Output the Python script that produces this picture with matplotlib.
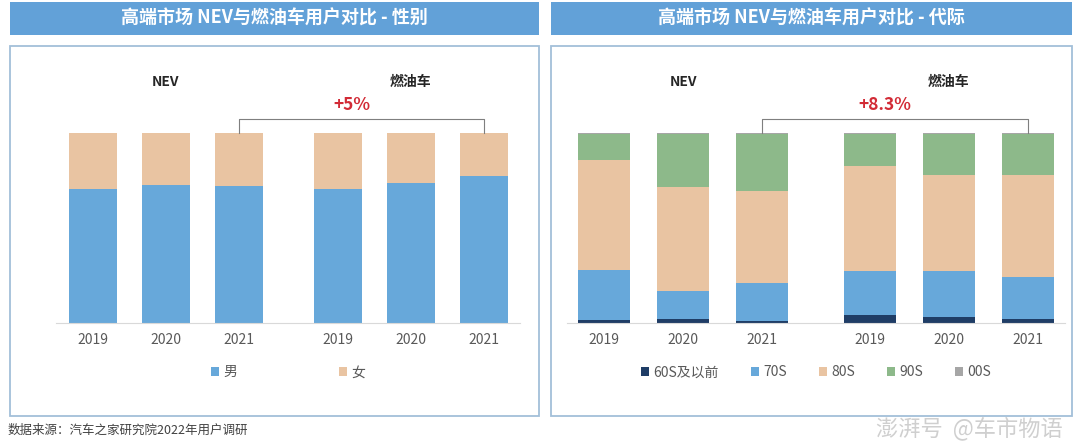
import numpy as np
import matplotlib
matplotlib.use("Agg")
import matplotlib.pyplot as plt
from matplotlib.patches import Rectangle, Patch

plt.rcParams['font.family'] = ['Noto Sans CJK SC', 'DejaVu Sans']

years = ['2019', '2020', '2021', '2019', '2020', '2021']
groups = ['NEV', '燃油车']

# 性别 (%): NEV 2019-2021, 燃油车 2019-2021
male = [70.4, 72.8, 72.1, 70.5, 73.5, 77.4]
female = [29.6, 27.2, 27.9, 29.5, 26.5, 22.6]

# 代际 (%)
gen_labels = ['60S及以前', '70S', '80S', '90S', '00S']
gen_60 = [1.4, 1.9, 1.1, 4.2, 3.2, 2.3]
gen_70 = [26.3, 14.9, 20.1, 23.3, 24.3, 21.7]
gen_80 = [57.9, 54.6, 48.1, 55.0, 50.2, 53.7]
gen_90 = [14.1, 28.3, 30.3, 17.0, 22.0, 22.0]
gen_00 = [0.3, 0.3, 0.4, 0.5, 0.3, 0.3]

diff_sex = '+5%'
diff_gen = '+8.3%'

c_blue = '#67A8DA'
c_tan = '#E9C4A2'
c_green = '#8DB98A'
c_navy = '#1F3D66'
c_grey = '#A6A6A6'
c_head = '#62A1D8'
c_box = '#A3BFD9'

W, H = 1080, 445
fig = plt.figure(figsize=(W / 100, H / 100), dpi=100)


def px(x0, y0, x1, y1):
    # pixel box (top-left origin) -> figure fraction rect
    return [x0 / W, 1 - y1 / H, (x1 - x0) / W, (y1 - y0) / H]


xpos = np.array([0, 1, 2, 3.37, 4.37, 5.37])

panels = [
    dict(head=(10, 2, 539, 35), box=(10, 46, 539, 416), ax=(56, 133, 520, 323),
         xlim=(-0.51, 5.87), title='高端市场 NEV与燃油车用户对比 - 性别',
         series=[male, female], colors=[c_blue, c_tan], labels=['男', '女'],
         diff=diff_sex, colsp=7.3),
    dict(head=(551, 2, 1072, 35), box=(551, 46, 1072, 416), ax=(567, 133, 1065, 323),
         xlim=(-0.47, 5.84), title='高端市场 NEV与燃油车用户对比 - 代际',
         series=[gen_60, gen_70, gen_80, gen_90, gen_00],
         colors=[c_navy, c_blue, c_tan, c_green, c_grey], labels=gen_labels,
         diff=diff_gen, colsp=2.3),
]

for p in panels:
    # title bar
    x0, y0, x1, y1 = p['head']
    fig.patches.append(Rectangle((x0 / W, 1 - y1 / H), (x1 - x0) / W, (y1 - y0) / H,
                                 transform=fig.transFigure, facecolor=c_head,
                                 edgecolor='none', zorder=-2))
    fig.text((x0 + x1) / 2 / W, 1 - (y0 + y1) / 2 / H, p['title'], color='white',
             fontsize=13, fontweight='bold', ha='center', va='center')
    # frame
    x0, y0, x1, y1 = p['box']
    fig.patches.append(Rectangle((x0 / W, 1 - y1 / H), (x1 - x0) / W, (y1 - y0) / H,
                                 transform=fig.transFigure, facecolor='white',
                                 edgecolor=c_box, linewidth=1.3, zorder=-2))

    ax = fig.add_axes(px(*p['ax']))
    bottom = np.zeros(len(xpos))
    handles = []
    for vals, col, lab in zip(p['series'], p['colors'], p['labels']):
        v = np.array(vals) / 100
        ax.bar(xpos, v, bottom=bottom, width=0.66, color=col, linewidth=0)
        bottom += v
        handles.append(Patch(facecolor=col, label=lab))
    ax.set_xlim(*p['xlim'])
    ax.set_ylim(0, 1)
    ax.set_yticks([])
    ax.set_xticks(xpos)
    ax.set_xticklabels(years, fontsize=10, color='#595959')
    ax.tick_params(axis='x', length=0, pad=7)
    for s in ['left', 'right', 'top']:
        ax.spines[s].set_visible(False)
    ax.spines['bottom'].set_color('#D9D9D9')
    ax.patch.set_alpha(0)

    # group labels
    ax.text(1, 1.268, groups[0], ha='center', va='center', fontsize=10,
            fontweight='bold', color='#262626', clip_on=False)
    ax.text(4.37, 1.268, groups[1], ha='center', va='center', fontsize=10,
            fontweight='bold', color='#262626', clip_on=False)

    # bracket 2021 NEV -> 2021 燃油车
    ax.plot([xpos[2], xpos[2], xpos[5], xpos[5]], [1.0, 1.074, 1.074, 1.0],
            color='#7F7F7F', linewidth=0.8, clip_on=False)
    ax.text(3.56, 1.145, p['diff'], ha='center', va='center', fontsize=12.5,
            fontweight='bold', color='#D22B36', clip_on=False)

    ax.legend(handles=handles, loc='center', bbox_to_anchor=(0.5, -0.26), ncol=len(handles),
              frameon=False, fontsize=10, handlelength=0.6, handleheight=0.6,
              handletextpad=0.3, columnspacing=p['colsp'], labelcolor='#595959')

fig.text(8 / W, 1 - 430 / H, '数据来源：汽车之家研究院2022年用户调研', fontsize=9,
         color='#404040', ha='left', va='center')
fig.text(1063 / W, 1 - 428 / H, '澎湃号  @车市物语', fontsize=16, color='#CFCFCF',
         ha='right', va='center', style='italic')

fig.savefig('out.png', dpi=100)
